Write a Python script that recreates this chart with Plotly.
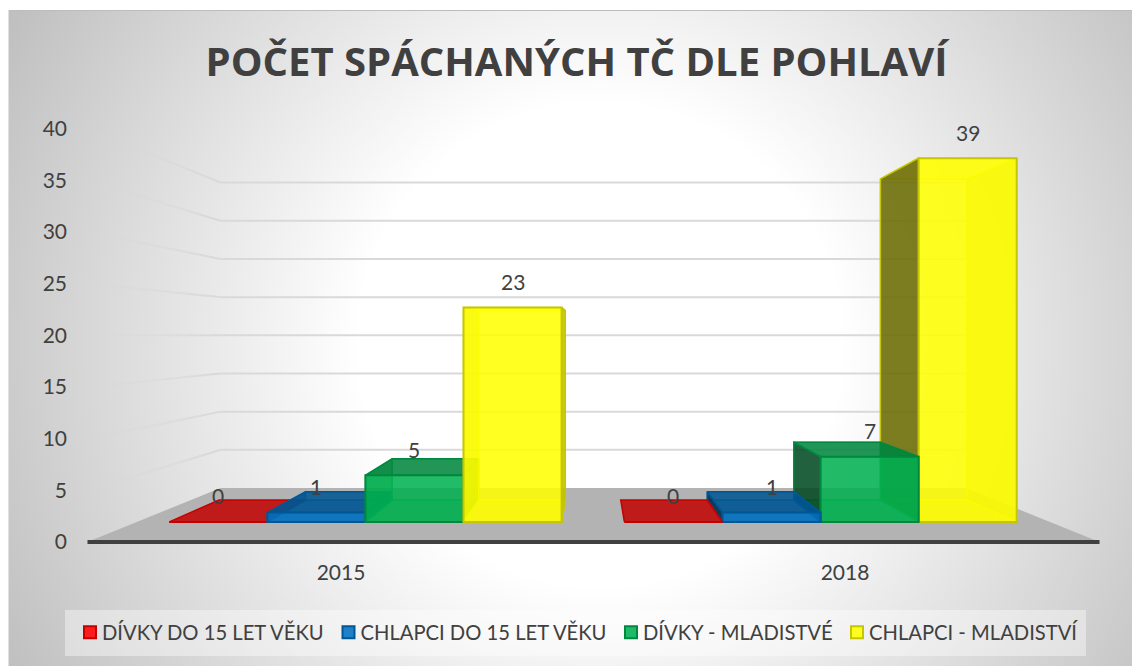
import base64
import plotly.graph_objects as go

# ---------- data ----------
categories = ["2015", "2018"]
series_names = ["DÍVKY DO 15 LET VĚKU", "CHLAPCI DO 15 LET VĚKU", "DÍVKY - MLADISTVÉ", "CHLAPCI - MLADISTVÍ"]
divky_do_15 = [0, 0]
chlapci_do_15 = [1, 1]
divky_mladistve = [5, 7]
chlapci_mladistvi = [23, 39]
value_ticks = [0, 5, 10, 15, 20, 25, 30, 35, 40]
title_text = "POČET SPÁCHANÝCH TČ DLE POHLAVÍ"

series_values = [divky_do_15, chlapci_do_15, divky_mladistve, chlapci_mladistvi]
series_rgb = [(255, 0, 0), (0, 112, 192), (0, 176, 80), (255, 255, 0)]

FONT = "Lato"
TITLE_FONT = "Open Sans"
TEXT_COLOR = "#404040"
LABEL_SIZE = 21
LEGEND_SIZE = 20.2
TITLE_SIZE = 40

# ---------- view geometry (perspective projection) ----------
W, H = 1132, 666
VX, VY = 593.0, 335.0          # vanishing point
UX, UV = 504.0, 10.33          # px per category / per value on the front plane
FLOOR = 207.0                  # floor drop below the vanishing point on the front plane
S_FRONT, S_BAR_F, S_BAR_B, S_WALL = 1.0, 0.903, 0.797, 0.739
BAR_W = 0.2155
LEGEND_LEFT = [62, 320.5, 603, 829]   # legend entry position, px
SYMBOL_SHIFT = 8                      # symbol sits this much nearer its text than Plotly's minimum item width

x_scale = S_BAR_F * UX
y_scale = S_BAR_F * UV
y_zero = VY + S_BAR_F * FLOOR


def to_x(px):
    return 0.5 + (px - VX) / x_scale


def to_y(py):
    return (y_zero - py) / y_scale


def proj(X, v, s):
    return to_x(VX + s * (X - 0.5) * UX), to_y(VY + s * (FLOOR - v * UV))


layout_axes = {}
traces = []
next_axis = [3]


def new_layer():
    n = next_axis[0]
    next_axis[0] += 1
    layout_axes[f"xaxis{n}"] = dict(range=[to_x(0), to_x(W)], visible=False, overlaying="x", fixedrange=True)
    layout_axes[f"yaxis{n}"] = dict(range=[to_y(H), to_y(0)], visible=False, overlaying="y", fixedrange=True)
    return f"x{n}", f"y{n}"


def shade(rgb, f, a=1.0):
    return f"rgba({int(rgb[0]*f)},{int(rgb[1]*f)},{int(rgb[2]*f)},{a})"


def poly(points, fill, line, lw=1.5, xa="x", ya="y"):
    xs = [p[0] for p in points] + [points[0][0]]
    ys = [p[1] for p in points] + [points[0][1]]
    traces.append(go.Scatter(x=xs, y=ys, mode="lines", fill="toself", fillcolor=fill,
                             line=dict(color=line, width=lw), hoverinfo="skip",
                             showlegend=False, xaxis=xa, yaxis=ya))


# ---------- floor and walls ----------
poly([proj(-0.503, 0, S_FRONT), proj(1.505, 0, S_FRONT), proj(1.5, 0, S_WALL), proj(-0.5, 0, S_WALL)],
     "#b3b3b3", "rgba(0,0,0,0)", 0)

grid_vals = [v for v in value_ticks if v > 0]
gx, gy = [], []
for v in grid_vals:
    a, b = proj(-0.5, v, S_WALL), proj(1.5, v, S_WALL)
    gx += [a[0], b[0], None]
    gy += [a[1], b[1], None]
traces.append(go.Scatter(x=gx, y=gy, mode="lines", line=dict(color="#d9d9d9", width=2),
                         hoverinfo="skip", showlegend=False))
N_FADE = 12
for k in range(N_FADE):
    s0 = S_FRONT + (S_WALL - S_FRONT) * k / N_FADE
    s1 = S_FRONT + (S_WALL - S_FRONT) * (k + 1) / N_FADE
    fx, fy = [], []
    for v in grid_vals:
        a, b = proj(-0.5, v, s0), proj(-0.5, v, s1)
        fx += [a[0], b[0], None]
        fy += [a[1], b[1], None]
    traces.append(go.Scatter(x=fx, y=fy, mode="lines",
                             line=dict(color=f"rgba(217,217,217,{(k + 1) / N_FADE:.3f})", width=2),
                             hoverinfo="skip", showlegend=False))

a, b = proj(-0.503, 0, S_FRONT), proj(1.505, 0, S_FRONT)
traces.append(go.Scatter(x=[a[0], b[0]], y=[a[1], b[1]], mode="lines", line=dict(color="#404040", width=4),
                         hoverinfo="skip", showlegend=False))

# axis-label carrier
traces.append(go.Scatter(x=[0, 1], y=[0, 40], mode="markers", marker=dict(opacity=0), hoverinfo="skip",
                         showlegend=False, xaxis="x2", yaxis="y2"))


# ---------- bars ----------
def draw_bar(cat, j):
    rgb = series_rgb[j]
    v = series_values[j][cat]
    X0 = cat + (j - 2) * BAR_W
    X1 = X0 + BAR_W
    edge = shade(rgb, 0.78, 1)
    inner = shade(rgb, 0.93, 0.6)
    F, B = S_BAR_F, S_BAR_B
    xa, ya = new_layer()
    top = [proj(X0, v, F), proj(X1, v, F), proj(X1, v, B), proj(X0, v, B)]
    above_eye = v * UV > FLOOR     # the top is then seen from below, through the front
    # hidden faces, seen through the front
    if v > 0:
        poly([proj(X0, 0, B), proj(X1, 0, B), proj(X1, v, B), proj(X0, v, B)],
             shade(rgb, 0.95, 0.1), inner, 1.5, xa, ya)
        poly([proj(X0, 0, F), proj(X1, 0, F), proj(X1, 0, B), proj(X0, 0, B)],
             shade(rgb, 0.9, 0.4), inner, 1.5, xa, ya)
    if above_eye:
        poly(top, shade(rgb, 0.95, 0.3), inner, 1.5, xa, ya)
    # interior side
    ins = X0 if X0 < 0.5 else X1
    if v > 0:
        poly([proj(ins, 0, F), proj(ins, v, F), proj(ins, v, B), proj(ins, 0, B)],
             shade(rgb, 0.75, 0.5), inner, 1.5, xa, ya)
    # exterior side
    ext = X1 if X0 < 0.5 else X0
    f_ext = 0.75 if X0 < 0.5 else 0.4
    if v > 0:
        poly([proj(ext, 0, F), proj(ext, v, F), proj(ext, v, B), proj(ext, 0, B)],
             shade(rgb, f_ext, 0.85), edge, 1.5, xa, ya)
    # top seen from above
    if not above_eye:
        poly(top, shade(rgb, 0.76, 0.85), edge, 1.5, xa, ya)
    # front, drawn as a real bar from the value
    xa2, ya2 = new_layer()
    traces.append(go.Bar(x=[cat + (j - 1.5) * BAR_W], y=[v], width=[BAR_W],
                         marker=dict(color=shade(rgb, 1.0, 0.85), line=dict(color=edge, width=2)),
                         hoverinfo="skip", showlegend=False, xaxis=xa2, yaxis=ya2))


for j in range(4):
    draw_bar(0, j)
for j in (3, 2, 1, 0):
    draw_bar(1, j)

# ---------- legend entries (one positioned legend per series) ----------
legend_layouts = {}
for j, name in enumerate(series_names):
    key = "legend" if j == 0 else f"legend{j + 1}"
    traces.append(go.Scatter(x=[None], y=[None], mode="markers", name=name, legend=key,
                             marker=dict(symbol="square", size=15, color=shade(series_rgb[j], 1.0, 0.88),
                                         line=dict(color=shade(series_rgb[j], 0.78), width=2)),
                             hoverinfo="skip"))
    legend_layouts[key] = dict(orientation="h", x=LEGEND_LEFT[j] / W, xanchor="left",
                               y=1 - 632.5 / H, yanchor="middle", bgcolor="rgba(0,0,0,0)", itemsizing="constant",
                               font=dict(family=FONT, size=LEGEND_SIZE, color=TEXT_COLOR))

# ---------- data labels ----------
annotations = []
for j in range(4):
    for cat in range(2):
        annotations.append(dict(x=cat + (j - 1.5) * BAR_W, y=series_values[j][cat], xref="x", yref="y",
                                text=str(series_values[j][cat]), showarrow=False, yshift=26, yanchor="middle",
                                font=dict(family=FONT, size=LABEL_SIZE, color=TEXT_COLOR)))

# ---------- background ----------
svg = f'''<svg xmlns="http://www.w3.org/2000/svg" width="{W}" height="{H}">
<defs><radialGradient id="g" gradientUnits="userSpaceOnUse" cx="600" cy="345" r="670">
<stop offset="0.36" stop-color="#ffffff"/><stop offset="1" stop-color="#c0c0c0"/>
</radialGradient></defs>
<rect x="8" y="10" width="{W}" height="{H}" fill="url(#g)"/>
<line x1="8" y1="10.5" x2="{W}" y2="10.5" stroke="#bdbdbd"/>
<line x1="8.5" y1="10" x2="8.5" y2="{H}" stroke="#e0e0e0"/>
</svg>'''
bg = "data:image/svg+xml;base64," + base64.b64encode(svg.encode()).decode()

tick_font = dict(size=LABEL_SIZE, color=TEXT_COLOR, family=FONT)
fig = go.Figure(traces)
fig.update_layout(
    width=W, height=H, margin=dict(l=0, r=0, t=0, b=0),
    paper_bgcolor="white", plot_bgcolor="rgba(0,0,0,0)",
    barmode="overlay", hovermode=False,
    font=dict(family=FONT, color=TEXT_COLOR, size=LABEL_SIZE),
    title=dict(text=title_text, x=576.5 / W, xanchor="center", y=1 - 62 / H, yanchor="middle",
               font=dict(family=TITLE_FONT, size=TITLE_SIZE, color=TEXT_COLOR, weight=700)),
    xaxis=dict(range=[to_x(0), to_x(W)], visible=False, fixedrange=True),
    yaxis=dict(range=[to_y(H), to_y(0)], visible=False, fixedrange=True),
    xaxis2=dict(overlaying="x", anchor="free", position=(H - 558) / H, fixedrange=True,
                range=[0.5 + (0 - VX) / UX, 0.5 + (W - VX) / UX],
                tickmode="array", tickvals=[0, 1], ticktext=categories, showgrid=False, zeroline=False,
                showline=False, ticks="", tickfont=tick_font),
    yaxis2=dict(overlaying="y", anchor="free", position=67 / W, side="left", fixedrange=True,
                range=[(VY + FLOOR - H) / UV, (VY + FLOOR) / UV],
                tickmode="array", tickvals=value_ticks, showgrid=False, zeroline=False,
                showline=False, ticks="", tickfont=tick_font),
    images=[dict(source=bg, xref="paper", yref="paper", x=0, y=1, sizex=1, sizey=1,
                 xanchor="left", yanchor="top", sizing="stretch", layer="below")],
    shapes=[dict(type="rect", xref="paper", yref="paper", x0=65 / W, x1=1086 / W, y0=1 - 656 / H, y1=1 - 610 / H,
                 fillcolor="rgba(255,255,255,0.4)", line=dict(width=0), layer="below")],
    annotations=annotations,
)
fig.update_layout(**legend_layouts)
fig.update_layout(**layout_axes)
fig.write_html("out.html", config=dict(displayModeBar=False),
               post_script="document.body.style.margin='0';document.body.style.overflow='hidden';"
                           "document.querySelectorAll('.legendsymbols').forEach(function(e){"
                           f"e.setAttribute('transform','translate({SYMBOL_SHIFT},0)');}});")
